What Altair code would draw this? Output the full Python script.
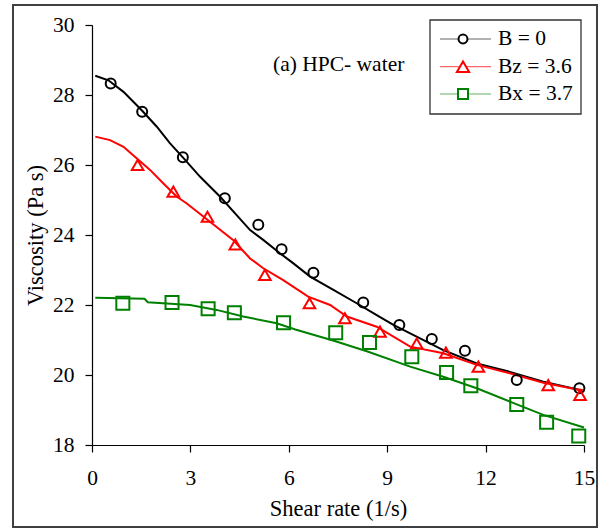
import altair as alt
import pandas as pd

x_ticks = [0, 3, 6, 9, 12, 15]
y_ticks = [18, 20, 22, 24, 26, 28, 30]
series_names = ["B = 0", "Bz = 3.6", "Bx = 3.7"]
series_colors = ["#000000", "#FF0000", "#008000"]
series_shapes = ["circle", "triangle-up", "square"]

# measured points
b0_x = [0.57, 1.53, 2.77, 4.05, 5.07, 5.78, 6.75, 8.27, 9.37, 10.36, 11.37, 12.95, 14.86]
b0_y = [28.33, 27.52, 26.22, 25.05, 24.29, 23.59, 22.92, 22.07, 21.43, 21.03, 20.69, 19.86, 19.62]
bz_x = [1.39, 2.48, 3.52, 4.37, 5.27, 6.63, 7.71, 8.78, 9.90, 10.79, 11.78, 13.91, 14.88]
bz_y = [26.00, 25.24, 24.52, 23.73, 22.86, 22.05, 21.62, 21.24, 20.90, 20.64, 20.24, 19.71, 19.43]
bx_x = [0.94, 2.44, 3.54, 4.34, 5.84, 7.43, 8.46, 9.75, 10.81, 11.55, 12.95, 13.86, 14.84]
bx_y = [22.05, 22.07, 21.89, 21.78, 21.49, 21.21, 20.93, 20.52, 20.07, 19.69, 19.16, 18.65, 18.26]

# fitted curves
b0_line_x = [0.1, 0.5, 0.96, 1.53, 1.97, 2.38, 2.77, 3.29, 3.9, 4.82, 5.22, 5.73, 6.14, 6.65,
             7.36, 8.07, 8.68, 9.19, 9.7, 10.71, 11.73, 12.74, 13.76, 14.98]
b0_line_y = [28.55, 28.42, 28.09, 27.55, 27.1, 26.62, 26.22, 25.67, 25.1, 24.14, 23.86, 23.48,
             23.19, 22.81, 22.43, 22.05, 21.71, 21.43, 21.19, 20.71, 20.33, 20.09, 19.81, 19.55]
bz_line_x = [0.1, 0.55, 0.96, 1.36, 1.77, 2.17, 2.58, 2.89, 3.5, 4.31, 4.82, 5.22, 5.83, 6.59,
             7.26, 7.77, 8.68, 9.7, 10.71, 11.73, 12.74, 13.76, 14.98]
bz_line_y = [26.81, 26.71, 26.52, 26.19, 25.86, 25.48, 25.1, 24.9, 24.45, 23.85, 23.33, 23.05,
             22.71, 22.24, 22.0, 21.67, 21.38, 20.81, 20.62, 20.29, 20.05, 19.78, 19.55]
bx_line_x = [0.1, 1.6, 1.7, 2.99, 3.8, 4.61, 5.63, 6.2, 7.4, 8.4, 9.7, 10.71, 11.73, 12.74,
             13.76, 15.0]
bx_line_y = [22.21, 22.18, 22.08, 22.0, 21.86, 21.67, 21.48, 21.3, 20.97, 20.67, 20.24, 19.95,
             19.62, 19.24, 18.86, 18.5]

pts = pd.concat([
    pd.DataFrame({"x": b0_x, "y": b0_y, "series": series_names[0]}),
    pd.DataFrame({"x": bz_x, "y": bz_y, "series": series_names[1]}),
    pd.DataFrame({"x": bx_x, "y": bx_y, "series": series_names[2]}),
], ignore_index=True)
lines = pd.concat([
    pd.DataFrame({"x": b0_line_x, "y": b0_line_y, "series": series_names[0]}),
    pd.DataFrame({"x": bz_line_x, "y": bz_line_y, "series": series_names[1]}),
    pd.DataFrame({"x": bx_line_x, "y": bx_line_y, "series": series_names[2]}),
], ignore_index=True)

FONT = "Liberation Serif"
xscale = alt.Scale(domain=[0, 15], nice=False, zero=False)
yscale = alt.Scale(domain=[18, 30], nice=False, zero=False)
color_scale = alt.Scale(domain=series_names, range=series_colors)

xenc = alt.X("x:Q", scale=xscale, axis=alt.Axis(
    values=x_ticks, title="Shear rate (1/s)", grid=False, tickSize=7, labelPadding=15,
    labelFlush=False, titleY=63, titleBaseline="middle"))
yenc = alt.Y("y:Q", scale=yscale, axis=alt.Axis(
    values=y_ticks, title="Viscosity (Pa s)", grid=False, tickSize=7, labelPadding=11,
    labelFlush=False, titleX=-57, titleBaseline="middle"))

line_layer = alt.Chart(lines).mark_line(strokeWidth=2).encode(
    x=xenc, y=yenc,
    color=alt.Color("series:N", scale=color_scale, legend=None),
    detail="series:N",
)
point_layer = alt.Chart(pts).mark_point(filled=False, strokeWidth=2, opacity=1).encode(
    x="x:Q", y="y:Q",
    color=alt.Color("series:N", scale=color_scale, legend=None),
    shape=alt.Shape("series:N", scale=alt.Scale(domain=series_names, range=series_shapes), legend=None),
    size=alt.Size("series:N", scale=alt.Scale(domain=series_names, range=[100, 170, 130]), legend=None),
)

one = pd.DataFrame({"a": [0]})
border = alt.Chart(one).mark_rect(fill=None, stroke="#404040", strokeWidth=2).encode(
    x=alt.value(-79), x2=alt.value(505), y=alt.value(-20), y2=alt.value(502))

annot = alt.Chart(one).mark_text(align="left", baseline="middle", fontSize=21.5, font=FONT,
                                 color="black", text="(a) HPC- water").encode(
    x=alt.value(181), y=alt.value(40))

legend_box = alt.Chart(one).mark_rect(fill="white", stroke="#333333", strokeWidth=1.3).encode(
    x=alt.value(338), x2=alt.value(489), y=alt.value(-5), y2=alt.value(89))

legend_layers = [legend_box]
rows = [14, 41.7, 69]
lsizes = [80, 150, 100]
for name, col, shp, row, sz in zip(series_names, series_colors, series_shapes, rows, lsizes):
    legend_layers.append(alt.Chart(one).mark_rule(color=col, strokeWidth=1.2, opacity=0.6).encode(
        x=alt.value(348), x2=alt.value(399), y=alt.value(row)))
    legend_layers.append(alt.Chart(one).mark_point(shape=shp, filled=True, fill="white", stroke=col,
                                                   strokeWidth=2, size=sz, opacity=1).encode(
        x=alt.value(371), y=alt.value(row)))
    legend_layers.append(alt.Chart(one).mark_text(align="left", baseline="middle", fontSize=21.5,
                                                  font=FONT, color="black", text=name).encode(
        x=alt.value(406), y=alt.value(row)))

chart = alt.layer(border, line_layer, point_layer, annot, *legend_layers).properties(
    width=492, height=420,
    autosize=alt.AutoSizeParams(type="none"),
    padding={"left": 92, "top": 25, "right": 20, "bottom": 84},
    background="white",
).configure_view(stroke=None).configure_axis(
    labelFont=FONT, titleFont=FONT, labelFontSize=21.5, titleFontSize=22.5,
    labelColor="black", titleColor="black", domainColor="black", tickColor="black",
    titleFontWeight="normal", domainWidth=1.2, tickWidth=1.2,
)

chart.save("out.html", embed_options={"renderer": "svg", "actions": False})
